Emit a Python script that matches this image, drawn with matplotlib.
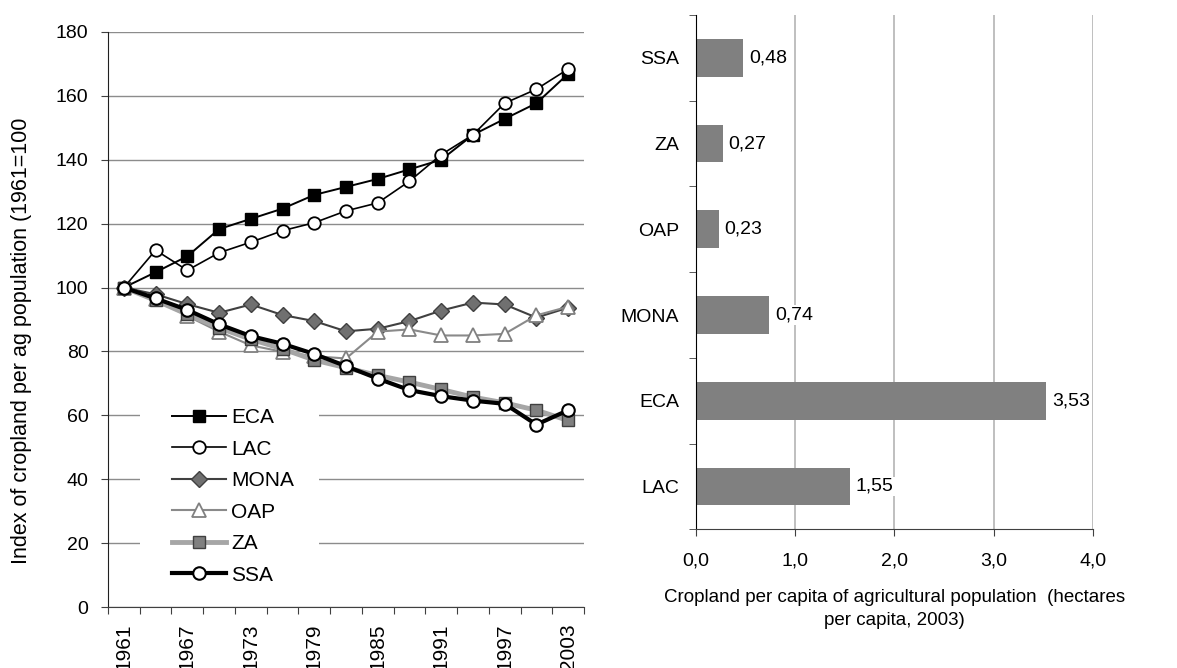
import matplotlib
matplotlib.use("Agg")
import matplotlib.pyplot as plt
import numpy as np
from matplotlib.patches import Rectangle

plt.rcParams['font.family'] = ['Liberation Sans', 'DejaVu Sans']

# left panel: index of cropland per ag population (1961=100)
years = [1961, 1964, 1967, 1970, 1973, 1976, 1979, 1982, 1985, 1988, 1991, 1994, 1997, 2000, 2003]
eca = [100, 104.8, 109.8, 118.3, 121.5, 124.7, 129.0, 131.5, 134.0, 137.0, 140.0, 147.8, 152.8, 157.7, 166.9]
lac = [100, 111.7, 105.4, 110.9, 114.2, 117.8, 120.3, 124.0, 126.5, 133.3, 141.6, 147.8, 157.7, 162.1, 168.4]
mona = [100, 97.9, 94.8, 92.1, 94.7, 91.4, 89.5, 86.3, 87.1, 89.5, 92.8, 95.3, 94.7, 90.6, 93.7]
oap = [100, 96.3, 91.1, 86.2, 81.9, 79.9, 78.5, 77.8, 86.2, 86.9, 85.0, 85.0, 85.5, 91.3, 94.0]
za = [100, 96.0, 91.6, 87.4, 83.8, 80.8, 77.3, 74.9, 72.5, 70.4, 68.1, 65.7, 63.9, 61.6, 58.4]
ssa = [100, 96.6, 93.0, 88.5, 84.8, 82.4, 79.2, 75.4, 71.5, 67.9, 66.0, 64.6, 63.6, 57.1, 61.6]

# right panel: cropland per capita of agricultural population, 2003
regions = ['SSA', 'ZA', 'OAP', 'MONA', 'ECA', 'LAC']
hectares = [0.48, 0.27, 0.23, 0.74, 3.53, 1.55]

fig = plt.figure(figsize=(11.77, 6.68), dpi=100)

# ---- left chart
ax = fig.add_axes([108/1177, 1-607/668, 476/1177, 575/668])
x = np.arange(len(years))
ax.plot(x, eca, color='black', lw=1.4, marker='s', ms=8, mfc='black', mec='black', label='ECA')
ax.plot(x, lac, color='black', lw=1.2, marker='o', ms=9, mfc='white', mec='black', mew=1.3, label='LAC')
ax.plot(x, mona, color='#404040', lw=1.5, marker='D', ms=8, mfc='#707070', mec='#404040', mew=1.0, label='MONA')
ax.plot(x, oap, color='#8a8a8a', lw=1.5, marker='^', ms=10, mfc='white', mec='#808080', mew=1.3, label='OAP')
ax.plot(x, za, color='#a6a6a6', lw=3.5, marker='s', ms=8, mfc='#808080', mec='#404040', mew=1.0, label='ZA')
ax.plot(x, ssa, color='black', lw=3.0, marker='o', ms=9, mfc='white', mec='black', mew=1.5, label='SSA')

ax.set_xlim(-0.5, len(years) - 0.5)
ax.set_ylim(0, 180)
ax.set_yticks(np.arange(0, 181, 20))
ax.yaxis.grid(True, color='#8c8c8c', lw=1)
ax.set_axisbelow(True)
ax.set_xticks(np.arange(-0.5, len(years), 1))
ax.set_xticklabels([])
ax.set_xticks(x[::2], minor=True)
ax.set_xticklabels([str(y) for y in years[::2]], minor=True, rotation=90, fontsize=15)
ax.tick_params(axis='x', which='minor', length=0, pad=12)
ax.tick_params(axis='x', which='major', length=5, color='#404040')
ax.tick_params(axis='y', length=5, labelsize=14, pad=9, color='#404040')
for s in ['top', 'right']:
    ax.spines[s].set_visible(False)
ax.spines['left'].set_color('#202020')
ax.spines['bottom'].set_color('#404040')

# white legend area that hides the gridlines
ax.add_patch(Rectangle((0.067, 0.02), 0.376, 0.34, transform=ax.transAxes,
                       facecolor='white', edgecolor='none', zorder=1))
leg = ax.legend(loc='upper left', bbox_to_anchor=(0.134, 0.346), borderaxespad=0,
                fontsize=15, handlelength=2.6, labelspacing=0.6, handletextpad=0.25,
                frameon=False, borderpad=0)

fig.text(22/1177, 1-341/668, 'Index of cropland per ag population (1961=100',
         rotation=90, ha='center', va='center', fontsize=15.5)

# ---- right chart
bx = fig.add_axes([695.7/1177, 1-529.3/668, 397.3/1177, 514.3/668])
y = np.arange(len(regions))
bx.barh(y, hectares, height=0.44, color='#808080', zorder=2)
bx.set_ylim(len(regions) - 0.5, -0.5)
bx.set_xlim(0, 4)
bx.set_xticks(np.arange(0, 4.01, 1))
bx.xaxis.set_major_formatter(matplotlib.ticker.FuncFormatter(lambda v, p: ('%.1f' % v).replace('.', ',')))
bx.set_yticks(y)
bx.set_yticklabels(regions)
bx.set_yticks(np.arange(-0.5, len(regions), 1), minor=True)
bx.tick_params(axis='y', which='major', length=0, pad=12, labelsize=14)
bx.tick_params(axis='y', which='minor', length=5, color='#404040')
bx.tick_params(axis='x', length=5, pad=12, labelsize=14, color='#404040')
bx.xaxis.grid(True, color='#b4b4b4', lw=1.2, zorder=0)
bx.set_axisbelow(True)
for s in ['top', 'right']:
    bx.spines[s].set_visible(False)
bx.spines['left'].set_color('black')
bx.spines['bottom'].set_color('#404040')
for yi, v in zip(y, hectares):
    bx.text(v + 0.06, yi, ('%.2f' % v).replace('.', ','), va='center', ha='left', fontsize=14,
            bbox=dict(facecolor='white', edgecolor='none', pad=1), zorder=3)
bx.set_xlabel('Cropland per capita of agricultural population  (hectares\nper capita, 2003)',
              fontsize=13.5, labelpad=14, linespacing=1.45)

fig.savefig('out.png', dpi=100)
